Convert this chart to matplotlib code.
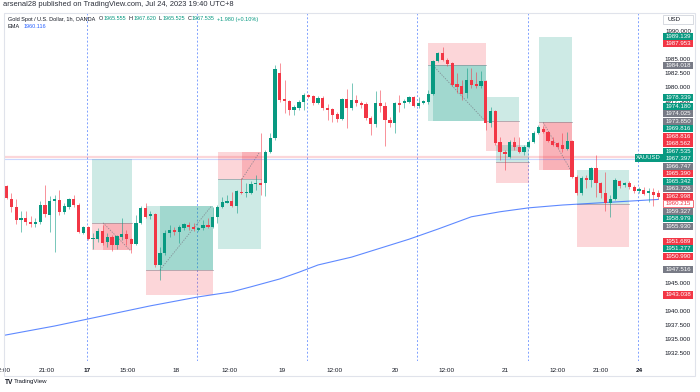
import matplotlib.pyplot as plt
from matplotlib.patches import Rectangle
from matplotlib.transforms import blended_transform_factory

plt.rcParams['font.family'] = ['Liberation Sans', 'DejaVu Sans']

# hourly candles
opens = [1962.5, 1960.2, 1958.75, 1956.4, 1956.8, 1956.1, 1955.7, 1956.1, 1959.1, 1957.3,
         1959.8, 1960.0, 1957.9, 1958.75, 1960.2, 1959.1, 1954.1, 1955.2, 1953.0, 1953.0,
         1954.5, 1952.5, 1953.4, 1952.0, 1953.4, 1953.9, 1953.0, 1952.1, 1955.9, 1958.6,
         1957.1, 1957.5, 1948.4, 1950.5, 1954.1, 1954.6, 1954.3, 1955.0, 1955.5, 1955.2,
         1954.6, 1955.0, 1955.4, 1955.2, 1957.0, 1958.75, 1959.5, 1959.8, 1958.9, 1961.4,
         1961.25, 1961.25, 1962.9, 1963.0, 1963.0, 1968.6, 1971.1, 1982.7, 1978.0, 1977.7,
         1976.1, 1976.4, 1977.5, 1978.75, 1978.6, 1977.3, 1978.2, 1976.4, 1976.25, 1975.4,
         1974.5, 1978.0, 1976.4, 1977.9, 1977.3, 1977.1, 1974.6, 1973.6, 1977.3, 1976.8,
         1974.3, 1973.75, 1977.3, 1977.3, 1977.5, 1978.4, 1976.8, 1977.3, 1977.5, 1978.9,
         1984.8, 1986.25, 1985.0, 1984.5, 1980.7, 1980.4, 1979.1, 1981.4, 1980.7, 1980.4,
         1981.25, 1973.75, 1975.9, 1970.4, 1968.6, 1967.7, 1970.4, 1969.5, 1968.6, 1969.5,
         1970.4, 1972.0, 1972.7, 1972.1, 1970.5, 1970.2, 1969.8, 1969.1, 1970.5, 1964.1,
         1961.25, 1963.9, 1963.6, 1965.7, 1963.0, 1961.25, 1959.5, 1960.2, 1963.4, 1962.7,
         1963.0, 1962.3, 1961.6, 1961.8, 1961.25, 1961.4, 1961.25]
highs = [1962.7, 1961.25, 1960.2, 1958.0, 1958.0, 1957.1, 1956.8, 1959.8, 1962.7, 1960.7,
         1960.9, 1961.8, 1959.5, 1960.4, 1960.9, 1959.5, 1955.4, 1955.4, 1954.1, 1955.0,
         1955.5, 1954.1, 1953.75, 1953.75, 1956.8, 1954.6, 1953.2, 1957.3, 1958.9, 1959.5,
         1958.0, 1957.7, 1951.6, 1954.6, 1955.5, 1955.2, 1955.5, 1955.9, 1956.1, 1955.9,
         1955.2, 1956.4, 1956.8, 1958.75, 1959.1, 1960.5, 1960.9, 1961.4, 1961.8, 1963.9,
         1963.0, 1963.4, 1964.5, 1972.0, 1968.9, 1972.0, 1984.1, 1984.5, 1981.4, 1977.9,
         1977.0, 1977.9, 1979.1, 1978.9, 1978.75, 1978.6, 1978.6, 1977.1, 1976.4, 1975.7,
         1978.2, 1979.8, 1980.9, 1978.75, 1977.7, 1977.5, 1975.0, 1979.5, 1979.6, 1977.5,
         1974.8, 1977.5, 1978.75, 1978.0, 1978.6, 1978.6, 1978.4, 1977.9, 1979.6, 1985.0,
         1986.4, 1987.3, 1985.4, 1984.6, 1982.7, 1981.4, 1983.6, 1983.6, 1982.9, 1983.0,
         1981.4, 1976.6, 1976.1, 1971.25, 1968.9, 1970.7, 1971.25, 1971.25, 1969.8, 1970.7,
         1972.3, 1973.4, 1973.2, 1972.3, 1971.25, 1970.4, 1972.0, 1972.1, 1970.7, 1964.5,
         1964.3, 1964.5, 1965.9, 1968.0, 1963.2, 1965.0, 1960.9, 1963.9, 1963.6, 1963.2,
         1963.4, 1962.7, 1962.3, 1962.3, 1962.1, 1962.1, 1961.8]
lows = [1960.2, 1957.9, 1955.7, 1954.3, 1955.5, 1955.2, 1955.2, 1955.7, 1957.0, 1954.3,
        1950.7, 1957.3, 1957.5, 1958.4, 1958.75, 1954.1, 1953.9, 1952.9, 1951.25, 1952.5,
        1952.0, 1951.6, 1950.9, 1951.25, 1952.9, 1952.0, 1950.5, 1952.0, 1955.7, 1956.8,
        1956.6, 1948.0, 1945.7, 1950.2, 1953.4, 1953.75, 1952.3, 1954.6, 1954.6, 1954.5,
        1954.5, 1954.6, 1955.0, 1955.0, 1955.9, 1958.6, 1959.5, 1958.75, 1957.7, 1961.1,
        1960.5, 1961.1, 1961.8, 1960.9, 1960.7, 1968.4, 1970.7, 1977.5, 1975.5, 1975.2,
        1975.2, 1976.1, 1976.1, 1978.2, 1976.9, 1977.1, 1976.1, 1974.3, 1973.9, 1973.9,
        1974.3, 1972.9, 1976.1, 1976.8, 1976.4, 1974.3, 1971.6, 1973.0, 1975.7, 1969.6,
        1973.0, 1972.0, 1975.7, 1976.4, 1977.3, 1976.6, 1976.4, 1977.1, 1977.1, 1978.75,
        1984.6, 1984.8, 1983.9, 1980.4, 1979.1, 1977.9, 1978.2, 1980.0, 1980.0, 1980.0,
        1972.5, 1973.0, 1969.8, 1967.1, 1965.4, 1967.5, 1968.9, 1968.4, 1968.0, 1969.3,
        1970.2, 1971.8, 1972.0, 1970.4, 1969.6, 1969.3, 1968.6, 1968.9, 1963.9, 1960.9,
        1960.9, 1962.1, 1962.3, 1960.5, 1960.4, 1958.0, 1957.0, 1960.0, 1962.1, 1962.3,
        1962.0, 1961.25, 1961.25, 1960.9, 1959.6, 1958.9, 1960.2]
closes = [1960.4, 1958.75, 1956.4, 1956.8, 1956.1, 1955.7, 1956.1, 1959.1, 1957.5, 1959.8,
          1960.2, 1957.9, 1958.9, 1960.2, 1959.1, 1954.3, 1955.2, 1953.0, 1953.2, 1954.5,
          1952.3, 1953.4, 1952.0, 1953.6, 1953.9, 1953.0, 1952.1, 1955.9, 1958.6, 1957.0,
          1957.5, 1948.4, 1950.5, 1954.1, 1954.6, 1954.3, 1955.2, 1955.7, 1955.2, 1954.8,
          1955.0, 1955.5, 1955.2, 1957.0, 1958.75, 1959.6, 1959.8, 1958.9, 1961.6, 1961.25,
          1961.4, 1962.9, 1963.0, 1962.7, 1968.6, 1971.1, 1983.4, 1977.9, 1977.7, 1976.1,
          1976.6, 1977.5, 1978.75, 1978.4, 1977.3, 1978.2, 1976.4, 1976.1, 1975.2, 1974.5,
          1978.0, 1976.4, 1977.9, 1977.3, 1977.1, 1974.6, 1973.6, 1977.3, 1976.8, 1974.3,
          1973.75, 1977.3, 1977.1, 1977.7, 1978.4, 1976.8, 1977.3, 1977.7, 1978.9, 1984.8,
          1986.25, 1985.0, 1984.3, 1980.5, 1980.2, 1978.9, 1981.4, 1980.5, 1980.4, 1981.25,
          1973.75, 1975.9, 1970.2, 1968.6, 1968.2, 1970.4, 1969.5, 1968.6, 1969.5, 1970.4,
          1972.0, 1973.0, 1972.1, 1970.5, 1969.8, 1969.5, 1969.1, 1970.5, 1964.1, 1961.25,
          1963.9, 1963.6, 1965.7, 1963.0, 1961.25, 1959.5, 1960.2, 1963.6, 1962.5, 1963.0,
          1962.3, 1961.6, 1962.0, 1961.1, 1961.6, 1960.9, 1960.5]

# EMA line, sampled at candle numbers
ema_idx = [-1.4, 10, 20, 30, 40, 47, 51, 57, 61, 65, 72, 78, 84, 90, 97, 103, 109, 116, 124, 136]
ema_val = [1935.7, 1937.5, 1939.3, 1941.1, 1942.7, 1943.6, 1944.5, 1945.9, 1947.1, 1948.4,
           1949.8, 1951.4, 1953.0, 1954.8, 1957.0, 1957.9, 1958.6, 1959.1, 1959.5, 1960.1]

session_breaks = [16.75, 39.75, 62.75, 85.75, 108.75, 131.75]
time_labels = ["12:00", "21:00", "17", "15:00", "18", "12:00", "19", "12:00", "20",
               "12:00", "21", "12:00", "21:00", "24"]
time_pos = [-0.9, 8.4, 16.8, 25.3, 35.3, 46.6, 57.5, 68.5, 81.1, 91.9, 104.0, 114.9, 124.1, 132.0]

# long / short position tools
pos_start = [17.9, 29.1, 44.1, 87.9, 100.1, 102.2, 111.1, 119.1]
pos_end = [26.1, 43.1, 53.1, 100.1, 107.0, 109.0, 118.0, 129.9]
pos_fill = [20.1, 32.0, 49.1, 89.0, None, None, 112.0, None]
pos_top = [1967.397, 1958.979, 1968.562, 1987.953, 1978.339, 1969.816, 1989.139, 1965.342]
pos_entry = [1955.930, 1947.516, 1963.726, 1984.018, 1974.025, 1966.747, 1973.850, 1959.327]
pos_bottom = [1950.990, 1943.038, 1951.277, 1974.180, 1968.816, 1962.998, 1965.390, 1951.689]
pos_long = [True, True, False, False, True, True, True, True]
pos_hit = ['stop', 'target', 'stop', 'target', None, None, 'stop', None]

tag_prices = [1989.139, 1987.953, 1984.018, 1978.339, 1974.180, 1974.025, 1973.850,
              1969.816, 1968.816, 1968.562, 1967.535, 1967.397, 1966.747, 1965.390,
              1965.342, 1963.726, 1962.998, 1960.215, 1959.327, 1958.979, 1955.930,
              1951.689, 1951.277, 1950.990, 1947.516, 1943.038]
tag_kinds = ['g', 'r', 'n', 'g', 'g', 'n', 'n', 'g', 'r', 'r', 'g', 'g', 'n', 'r',
             'g', 'n', 'r', 'last', 'n', 'g', 'n', 'r', 'g', 'r', 'n', 'r']
symbol_price = 1967.535

GREEN = '#089981'
RED = '#f23645'
GRAY = '#787b86'
DARK = '#131722'
W, H = 700, 392

fig = plt.figure(figsize=(7, 3.92), dpi=100)
ax = fig.add_axes([4 / W, 1 - 361 / H, (662 - 4) / W, (361 - 13) / H])
ax.set_xlim(-0.564, 136.8)
ax.set_ylim(1931.25, 1993.39)
ax.axis('off')

for b in session_breaks:
    ax.axvline(b, color='#2962ff', lw=0.7, alpha=0.6, dashes=(2, 2), zorder=1)

# position boxes
for k in range(len(pos_start)):
    x0, x1 = pos_start[k], pos_end[k]
    if pos_long[k]:
        win = (pos_entry[k], pos_top[k])
        loss = (pos_bottom[k], pos_entry[k])
    else:
        win = (pos_bottom[k], pos_entry[k])
        loss = (pos_entry[k], pos_top[k])
    ax.add_patch(Rectangle((x0, win[0]), x1 - x0, win[1] - win[0], color=GREEN, alpha=0.2, lw=0, zorder=1))
    ax.add_patch(Rectangle((x0, loss[0]), x1 - x0, loss[1] - loss[0], color=RED, alpha=0.2, lw=0, zorder=1))
    ax.plot([x0, x1], [pos_entry[k], pos_entry[k]], color=GRAY, lw=0.6, alpha=0.6, zorder=2)
    if pos_fill[k] is not None:
        if pos_hit[k] == 'target':
            band, col = win, GREEN
            exit_p = pos_top[k] if pos_long[k] else pos_bottom[k]
        else:
            band, col = loss, RED
            exit_p = pos_bottom[k] if pos_long[k] else pos_top[k]
        ax.add_patch(Rectangle((pos_fill[k], band[0]), x1 - pos_fill[k], band[1] - band[0],
                               color=col, alpha=0.22, lw=0, zorder=1))
        ax.plot([pos_fill[k], x1 - 0.3], [pos_entry[k], exit_p], color=GRAY, lw=0.6,
                dashes=(1.5, 1.5), alpha=0.8, zorder=2)

ax.axhline(symbol_price + 0.2, color=RED, lw=1.6, alpha=0.2, zorder=2)
ax.axhline(symbol_price - 0.25, color='#2962ff', lw=0.8, alpha=0.25, zorder=2)

ax.plot(ema_idx, ema_val, color='#2962ff', lw=0.8, alpha=0.75, zorder=2)

for i in range(len(opens)):
    o, h, l, c = opens[i], highs[i], lows[i], closes[i]
    col = GREEN if c >= o else RED
    ax.vlines(i, l, h, color=col, lw=0.7, alpha=0.55, zorder=3)
    lo, hi = min(o, c), max(o, c)
    if hi - lo < 0.3:
        mid = (hi + lo) / 2
        lo, hi = mid - 0.15, mid + 0.15
    ax.bar(i, hi - lo, bottom=lo, width=0.68, color=col, lw=0, zorder=4)

# symbol label inside the plot
ax.text(136.6, symbol_price, "XAUUSD", ha='right', va='center', fontsize=4.2, color='white',
        zorder=6, bbox=dict(boxstyle='square,pad=0.25', fc=GREEN, ec='none'))

blend = blended_transform_factory(fig.transFigure, ax.transData)

# spread tags so they don't overlap (like the price scale does)
gap = 7.5 / 5.6
order = sorted(range(len(tag_prices)), key=lambda k: -tag_prices[k])
groups = [[tag_prices[k]] for k in order]


def place(g):
    c = sum(g) / len(g)
    return [c - (j - (len(g) - 1) / 2) * gap for j in range(len(g))]


merged = True
while merged:
    merged = False
    for k in range(len(groups) - 1):
        if place(groups[k])[-1] - place(groups[k + 1])[0] < gap:
            groups[k] = groups[k] + groups[k + 1]
            del groups[k + 1]
            merged = True
            break
shown = []
for g in groups:
    shown += place(g)

# price scale, labels hidden behind tags are left out
p = 1932.5
while p <= 1990.01:
    if min(abs(p - y) for y in shown) * 5.6 > 4.0:
        ax.text(678 / W, p, f"{p:.3f}", transform=blend, ha='center', va='center', fontsize=4.5,
                color=DARK, clip_on=False, zorder=5)
    p += 2.5

fills = {'g': GREEN, 'r': RED, 'n': GRAY, 'last': 'white'}
for k, y in zip(order, shown):
    kind = tag_kinds[k]
    ax.add_patch(Rectangle((663 / W, y - 0.64), 30 / W, 1.28, transform=blend, fc=fills[kind],
                           ec=RED if kind == 'last' else 'none', lw=0.5, clip_on=False, zorder=6))
    ax.text(678 / W, y, f"{tag_prices[k]:.3f}", transform=blend, ha='center', va='center',
            fontsize=4.4, color=RED if kind == 'last' else 'white', clip_on=False, zorder=7)

# time scale
tblend = blended_transform_factory(ax.transData, fig.transFigure)
for lab, x in zip(time_labels, time_pos):
    ax.text(x, 1 - 370 / H, lab, transform=tblend, ha='center', va='center', fontsize=4.6,
            color=DARK, clip_on=False, fontweight='bold' if lab in ("17", "24") else 'normal')

# frame and currency box
fig.add_artist(Rectangle((4 / W, 1 - 376 / H), (695 - 4) / W, (376 - 13) / H,
                         transform=fig.transFigure, fill=False, ec='#e0e3eb', lw=0.8))
fig.add_artist(Rectangle((663 / W, 1 - 24 / H), 30 / W, 9 / H, transform=fig.transFigure,
                         fc='white', ec='#d1d4dc', lw=0.6))
fig.text(667 / W, 1 - 19.5 / H, "USD", fontsize=4.4, color=DARK, va='center')

# header
fig.text(3 / W, 1 - 5 / H, "arsenal28 published on TradingView.com, Jul 24, 2023 19:40 UTC+8",
         fontsize=5.4, color='#2a2e39', va='center')
r = fig.canvas.get_renderer()
parts = [("Gold Spot / U.S. Dollar, 1h, OANDA", DARK, 3.5), ("O", DARK, 0.5), ("1965.555", GREEN, 2.5),
         ("H", DARK, 0.5), ("1967.620", GREEN, 2.5), ("L", DARK, 0.5), ("1965.525", GREEN, 2.5),
         ("C", DARK, 0.5), ("1967.535", GREEN, 2.5), ("+1.980 (+0.10%)", GREEN, 0)]
x = 8
for s, c, g in parts:
    t = fig.text(x / W, 1 - 19 / H, s, fontsize=3.95, color=c, va='center')
    x += t.get_window_extent(r).width + g
t = fig.text(8 / W, 1 - 27 / H, "EMA", fontsize=3.95, color=DARK, va='center')
fig.text((8 + t.get_window_extent(r).width + 3) / W, 1 - 27 / H, "1960.116", fontsize=3.95,
         color='#2962ff', va='center')

fig.text(5 / W, 1 - 382 / H, "TV", fontsize=4.8, color=DARK, va='center', fontweight='bold')
fig.text(14 / W, 1 - 382 / H, "TradingView", fontsize=4.4, color=DARK, va='center')

plt.savefig("out.png", dpi=100, facecolor='white')
